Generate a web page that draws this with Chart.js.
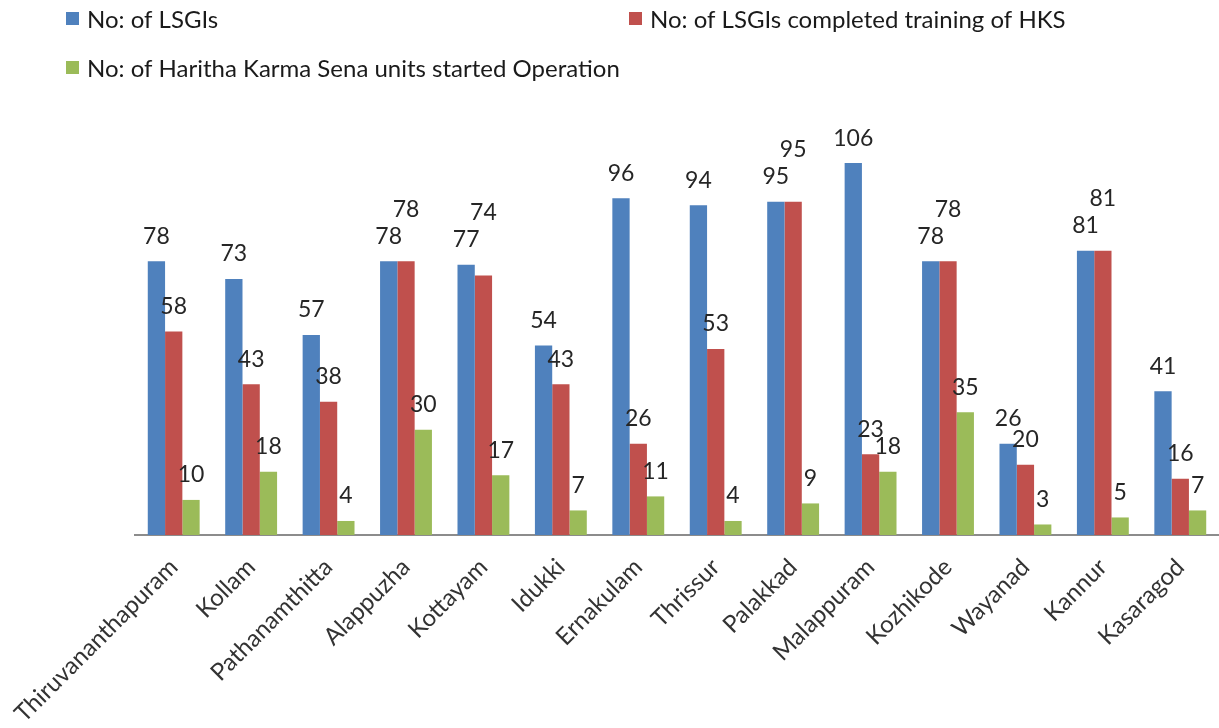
<!DOCTYPE html>
<html>
<head>
<meta charset="utf-8">
<title>LSGIs and Haritha Karma Sena units</title>
<script src="https://cdn.jsdelivr.net/npm/chart.js@4.4.1/dist/chart.umd.min.js"></script>
<style>
    html, body { margin: 0; padding: 0; background: #fff; }
    #wrap { width: 1219px; height: 728px; }
</style>
</head>
<body>
<div id="wrap"><canvas id="hksChart" width="1219" height="728"></canvas></div>
<script>
// district-wise data
const districts = ['Thiruvananthapuram', 'Kollam', 'Pathanamthitta', 'Alappuzha', 'Kottayam', 'Idukki',
    'Ernakulam', 'Thrissur', 'Palakkad', 'Malappuram', 'Kozhikode', 'Wayanad', 'Kannur', 'Kasaragod'];
const lsgiCount      = [78, 73, 57, 78, 77, 54, 96, 94, 95, 106, 78, 26, 81, 41];
const trainedCount   = [58, 43, 38, 78, 74, 43, 26, 53, 95, 23, 78, 20, 81, 16];
const operationCount = [10, 18, 4, 30, 17, 7, 11, 4, 9, 18, 35, 3, 5, 7];

const seriesNames = [
    'No: of LSGIs',
    'No: of LSGIs completed training of HKS',
    'No: of Haritha Karma Sena units started Operation'
];
const seriesColors = ['#4F81BD', '#C0504D', '#9BBB59'];

const TEXT_FONT = 'Lato, "Open Sans", sans-serif';

// numbers above each bar, nudged up when two labels would collide (like Excel does)
const valueLabels = {
    id: 'valueLabels',
    afterDatasetsDraw(chart) {
        const ctx = chart.ctx;
        ctx.save();
        ctx.font = '23px ' + TEXT_FONT;
        ctx.fillStyle = '#262626';
        ctx.textAlign = 'center';
        ctx.textBaseline = 'middle';
        chart.data.labels.forEach((_, i) => {
            const placed = [];
            chart.data.datasets.forEach((ds, d) => {
                const bar = chart.getDatasetMeta(d).data[i];
                const text = String(ds.data[i]);
                const w = ctx.measureText(text).width;
                let y = bar.y - 25;
                placed.forEach(p => {
                    if (Math.abs(p.x - bar.x) < (p.w + w) / 2 && Math.abs(p.y - y) < 14) {
                        y = p.y - 27;
                    }
                });
                placed.push({ x: bar.x, y: y, w: w });
                ctx.fillText(text, bar.x, y);
            });
        });
        ctx.restore();
    }
};

// legend laid out in two columns at the top left, as in the original
const cornerLegend = {
    id: 'cornerLegend',
    afterDraw(chart) {
        const slots = [{ x: 66, y: 19 }, { x: 629, y: 19 }, { x: 66, y: 68 }];
        const ctx = chart.ctx;
        ctx.save();
        ctx.font = '24px ' + TEXT_FONT;
        ctx.textAlign = 'left';
        ctx.textBaseline = 'middle';
        chart.data.datasets.forEach((ds, d) => {
            const s = slots[d];
            ctx.fillStyle = ds.backgroundColor;
            ctx.fillRect(s.x, s.y - 7, 13, 13);
            ctx.fillStyle = '#1a1a1a';
            ctx.fillText(ds.label, s.x + 21, s.y + 1);
        });
        ctx.restore();
    }
};

const ctx = document.getElementById('hksChart').getContext('2d');
const hksChart = new Chart(ctx, {
    type: 'bar',
    data: {
        labels: districts,
        datasets: [lsgiCount, trainedCount, operationCount].map((values, k) => ({
            label: seriesNames[k],
            data: values,
            backgroundColor: seriesColors[k],
            borderWidth: 0,
            categoryPercentage: 0.67,
            barPercentage: 1.0
        }))
    },
    options: {
        responsive: false,
        animation: false,
        layout: { padding: { top: 114, right: 0, left: 0, bottom: 0 } },
        plugins: {
            legend: { display: false },
            tooltip: { enabled: false }
        },
        scales: {
            x: {
                grid: { display: false },
                border: { display: true, color: '#8c8c8c', width: 2 },
                ticks: {
                    autoSkip: false,
                    maxRotation: 45,
                    minRotation: 45,
                    padding: 10,
                    color: '#333333',
                    font: { family: TEXT_FONT, size: 24 }
                },
                afterFit: scale => { scale.height = 193; }
            },
            y: {
                min: 0,
                max: 120,
                grid: { display: false, drawTicks: false },
                border: { display: false },
                ticks: { display: false },
                afterFit: scale => { scale.width = 135; }
            }
        }
    },
    plugins: [valueLabels, cornerLegend]
});
</script>
</body>
</html>
